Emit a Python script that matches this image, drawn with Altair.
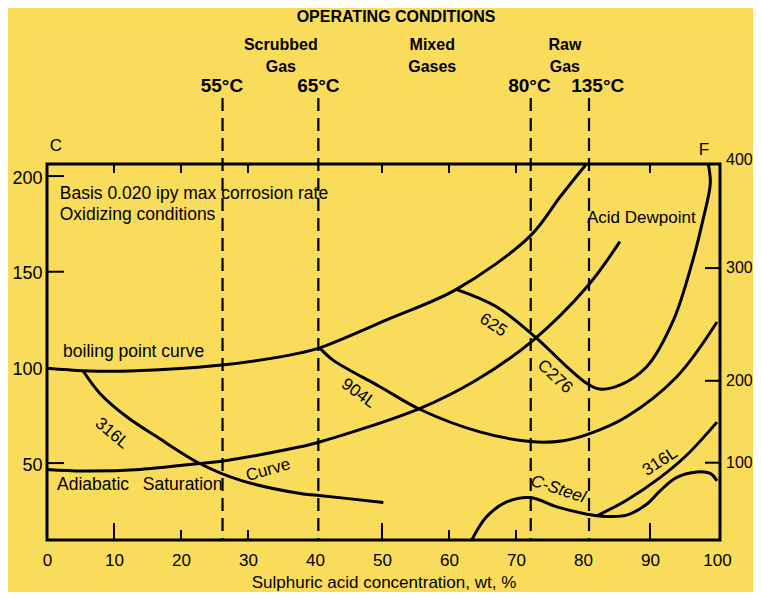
import altair as alt
import pandas as pd

BG = "#F9DC5C"
SANS = "Liberation Sans, Arial, sans-serif"

# ---------------- data ----------------
x_ticks = [0, 10, 20, 30, 40, 50, 60, 70, 80, 90, 100]
c_ticks = [50, 100, 150, 200]
f_labels = ["400", "300", "200", "100"]
f_at_c = [208.4, 151.9, 93.0, 50.2]          # where the F marks sit on the C scale

left_ticks = [50, 150, 200]
right_ticks = [151.9, 93.0, 50.2]
top_ticks = [10, 20, 30, 50, 60, 70, 90]
bottom_long_ticks = [10, 50, 90]
bottom_short_ticks = [20, 30, 60, 70]

op_temps = ["55°C", "65°C", "80°C", "135°C"]
op_line_x = [26.2, 40.5, 72.2, 80.9]
op_label_x = [26.1, 40.5, 72.0, 82.2]

group_top = ["Scrubbed", "Mixed", "Raw"]
group_bottom = ["Gas", "Gases", "Gas"]
group_x = [34.9, 57.5, 77.3]

boiling_x = [0, 5.4, 10.9, 18.0, 26.1, 34.8, 37.8, 40.7, 51.2, 61.1, 72.1, 76.6, 80.5]
boiling_y = [99.6, 98.3, 98.0, 99.0, 101.2, 105.5, 107.6, 110.2, 125.6, 140.8, 168.6, 189.2, 206.3]

sat_x = [0, 5.4, 13.9, 22.8, 26.1, 37.8, 40.3, 55.7, 64.1, 72.6, 80.6, 85.5]
sat_y = [46.7, 45.9, 46.7, 49.8, 51.0, 58.5, 60.6, 78.6, 93.4, 114.3, 142.1, 165.7]

l316_x = [5.4, 7.9, 11.9, 16.4, 22.8, 28.8, 37.8, 40.3, 50.2]
l316_y = [98.1, 86.4, 74.2, 63.7, 49.8, 41.1, 34.1, 33.2, 29.4]

l904_x = [40.7, 42.7, 49.7, 55.7, 64.6, 72.6, 77.1, 80.8, 86.5, 94.0, 100]
l904_y = [110.2, 103.8, 89.9, 78.0, 66.3, 61.1, 61.7, 65.1, 74.2, 95.1, 123.7]

c276_x = [61.1, 67.1, 73.1, 77.6, 80.6, 82.5, 85.5, 89.5, 93.5, 96.4, 97.9, 99.0, 98.7]
c276_y = [140.8, 131.7, 115.2, 100.3, 91.6, 88.7, 90.7, 100.3, 124.7, 156.1, 177.0, 196.2, 206.3]

csteel_x = [63.4, 65.6, 68.6, 72.1, 76.1, 80.6, 82.5, 86.5, 89.5, 91.5, 94.0, 97.0, 99.0, 100]
csteel_y = [9.8, 21.9, 29.7, 32.0, 27.1, 23.3, 22.3, 22.8, 28.5, 35.5, 42.5, 45.4, 44.6, 40.7]

l316r_x = [82.0, 86.5, 91.5, 95.5, 100]
l316r_y = [22.3, 30.6, 42.4, 54.2, 71.4]

note_text = ["Basis 0.020 ipy max corrosion rate", "Oxidizing conditions",
             "boiling point curve", "Adiabatic", "Saturation"]
note_x = [1.9, 1.9, 2.4, 1.5, 14.3]
note_y = [190.6, 179.6, 108.0, 38.5, 38.8]

label_text = ["316L", "904L", "625", "C276", "Curve", "316L", "Acid Dewpoint"]
label_x = [9.7, 46.5, 66.6, 75.8, 33.0, 91.5, 88.7]
label_y = [65.5, 86.4, 122.1, 95.1, 46.3, 50.7, 178.0]
label_angle = [40, 36, 33, 43, 344, 327, 0]

csteel_label = ["C-Steel"]
csteel_label_x = [76.3]
csteel_label_y = [36.3]
csteel_label_angle = [18]

# ---------------- tables ----------------
curves = [("boiling", boiling_x, boiling_y), ("saturation", sat_x, sat_y),
          ("316L", l316_x, l316_y), ("904L", l904_x, l904_y),
          ("625/C276", c276_x, c276_y), ("C-Steel", csteel_x, csteel_y),
          ("316L right", l316r_x, l316r_y)]
rows = []
for name, xs_, ys_ in curves:
    for i, (a, b) in enumerate(zip(xs_, ys_)):
        rows.append({"curve": name, "x": a, "y": b, "i": i})
curve_df = pd.DataFrame(rows)

W, H = 673, 376
xs = alt.Scale(domain=[0, 100.45], nice=False, zero=False)
ys = alt.Scale(domain=[9.8, 206.3], nice=False, zero=False)

x_axis = alt.Axis(values=x_ticks, grid=False, domain=False, ticks=False, labelFlush=False,
                  labelFont=SANS, labelFontSize=17, labelColor="black", labelPadding=12,
                  title="Sulphuric acid concentration, wt, %", titleFont=SANS,
                  titleFontSize=17, titleFontWeight="normal", titleColor="black", titlePadding=6)
y_axis = alt.Axis(values=c_ticks, grid=False, domain=False, ticks=False, labelFlush=False,
                  labelFont=SANS, labelFontSize=18, labelColor="black", labelPadding=5,
                  labelOffset=2, title=None)

lines = alt.Chart(curve_df).mark_line(
    color="black", strokeWidth=3, interpolate="catmull-rom", clip=True
).encode(
    x=alt.X("x:Q", scale=xs, axis=x_axis),
    y=alt.Y("y:Q", scale=ys, axis=y_axis),
    detail="curve:N",
    order="i:Q",
)

op_df = pd.DataFrame({"x": op_line_x, "lx": op_label_x, "t": op_temps})
dashed = alt.Chart(op_df).mark_rule(color="black", strokeWidth=2.2, strokeDash=[13, 7]).encode(
    x=alt.X("x:Q", scale=xs), y=alt.value(-66), y2=alt.value(H))
op_text = alt.Chart(op_df).mark_text(font=SANS, fontSize=19, fontWeight="bold",
                                     color="black", baseline="middle").encode(
    x=alt.X("lx:Q", scale=xs), y=alt.value(-78), text="t:N")

grp_df = pd.DataFrame({"x": group_x, "a": group_top, "b": group_bottom})
grp1 = alt.Chart(grp_df).mark_text(font=SANS, fontSize=16, fontWeight="bold",
                                   color="black", baseline="middle").encode(
    x=alt.X("x:Q", scale=xs), y=alt.value(-119), text="a:N")
grp2 = alt.Chart(grp_df).mark_text(font=SANS, fontSize=16, fontWeight="bold",
                                   color="black", baseline="middle").encode(
    x=alt.X("x:Q", scale=xs), y=alt.value(-97), text="b:N")
title_df = pd.DataFrame({"x": [52.1], "t": ["OPERATING CONDITIONS"]})
title = alt.Chart(title_df).mark_text(font=SANS, fontSize=16, fontWeight="bold",
                                      color="black", baseline="middle").encode(
    x=alt.X("x:Q", scale=xs), y=alt.value(-147), text="t:N")

# inward ticks
lt = alt.Chart(pd.DataFrame({"y": left_ticks})).mark_rule(color="black", strokeWidth=2).encode(
    y=alt.Y("y:Q", scale=ys), x=alt.value(0), x2=alt.value(17))
rt = alt.Chart(pd.DataFrame({"y": right_ticks})).mark_rule(color="black", strokeWidth=2).encode(
    y=alt.Y("y:Q", scale=ys), x=alt.value(W - 15), x2=alt.value(W))
tt = alt.Chart(pd.DataFrame({"x": top_ticks})).mark_rule(color="black", strokeWidth=2).encode(
    x=alt.X("x:Q", scale=xs), y=alt.value(0), y2=alt.value(9))
blt = alt.Chart(pd.DataFrame({"x": bottom_long_ticks})).mark_rule(color="black", strokeWidth=2).encode(
    x=alt.X("x:Q", scale=xs), y=alt.value(H - 17), y2=alt.value(H))
bst = alt.Chart(pd.DataFrame({"x": bottom_short_ticks})).mark_rule(color="black", strokeWidth=2).encode(
    x=alt.X("x:Q", scale=xs), y=alt.value(H - 10), y2=alt.value(H))

# right F labels
f_df = pd.DataFrame({"y": f_at_c, "t": f_labels})
f_text = alt.Chart(f_df).mark_text(font=SANS, fontSize=16, color="black", align="left",
                                   baseline="middle").encode(
    y=alt.Y("y:Q", scale=ys), x=alt.value(W + 6), text="t:N")

unit_df = pd.DataFrame({"t": ["C", "F"]})
c_text = alt.Chart(unit_df.iloc[[0]]).mark_text(font=SANS, fontSize=17, color="black",
                                                baseline="middle").encode(
    x=alt.value(9), y=alt.value(-18), text="t:N")
f_unit = alt.Chart(unit_df.iloc[[1]]).mark_text(font=SANS, fontSize=17, color="black",
                                                baseline="middle").encode(
    x=alt.value(657), y=alt.value(-14), text="t:N")

notes = alt.Chart(pd.DataFrame({"x": note_x, "y": note_y, "t": note_text})).mark_text(
    font=SANS, fontSize=17.5, color="black", align="left", baseline="middle").encode(
    x=alt.X("x:Q", scale=xs), y=alt.Y("y:Q", scale=ys), text="t:N")

labels = alt.Chart(pd.DataFrame({"x": label_x, "y": label_y, "t": label_text,
                                 "a": label_angle})).mark_text(
    font=SANS, fontSize=17, color="black", align="center", baseline="middle").encode(
    x=alt.X("x:Q", scale=xs), y=alt.Y("y:Q", scale=ys), text="t:N",
    angle=alt.Angle("a:Q", scale=None))

cs_label = alt.Chart(pd.DataFrame({"x": csteel_label_x, "y": csteel_label_y, "t": csteel_label,
                                   "a": csteel_label_angle})).mark_text(
    font=SANS, fontSize=17, fontStyle="italic", color="black", align="center",
    baseline="middle").encode(
    x=alt.X("x:Q", scale=xs), y=alt.Y("y:Q", scale=ys), text="t:N",
    angle=alt.Angle("a:Q", scale=None))

chart = alt.layer(
    lines, dashed, lt, rt, tt, blt, bst, notes, labels, cs_label,
    op_text, grp1, grp2, title, f_text, c_text, f_unit
).properties(
    width=W, height=H,
    autosize=alt.AutoSizeParams(type="none"),
    padding={"left": 39, "top": 156, "right": 33, "bottom": 52},
    background=BG,
).configure_view(stroke="black", strokeWidth=3)

chart.save("out.html", embed_options={"renderer": "svg", "actions": False})
